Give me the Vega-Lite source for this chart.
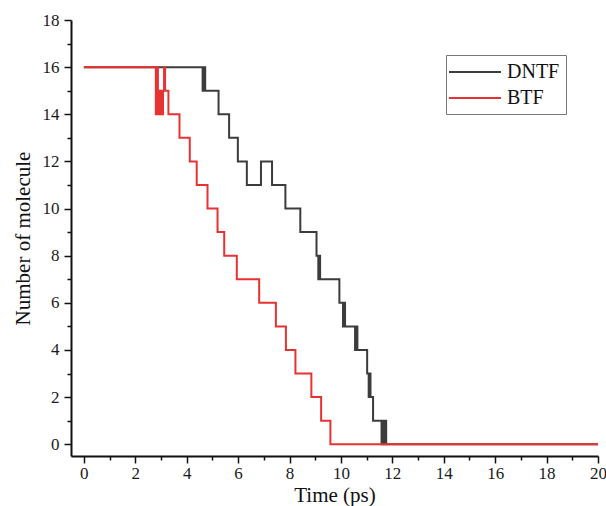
{
  "$schema": "https://vega.github.io/schema/vega-lite/v6.json",
  "width": 527,
  "height": 436,
  "autosize": "none",
  "padding": {"left": 71, "top": 20, "right": 8, "bottom": 50},
  "background": "white",
  "config": {
    "view": {"stroke": null},
    "font": "Times New Roman, Liberation Serif, DejaVu Serif, serif"
  },
  "data": {
    "values": [
      {"t": 0, "n": 16, "series": "DNTF"},
      {"t": 4.62, "n": 15, "series": "DNTF"},
      {"t": 4.68, "n": 16, "series": "DNTF"},
      {"t": 4.72, "n": 15, "series": "DNTF"},
      {"t": 5.24, "n": 14, "series": "DNTF"},
      {"t": 5.65, "n": 13, "series": "DNTF"},
      {"t": 5.99, "n": 12, "series": "DNTF"},
      {"t": 6.34, "n": 11, "series": "DNTF"},
      {"t": 6.89, "n": 12, "series": "DNTF"},
      {"t": 7.32, "n": 11, "series": "DNTF"},
      {"t": 7.84, "n": 10, "series": "DNTF"},
      {"t": 8.42, "n": 9, "series": "DNTF"},
      {"t": 9.05, "n": 8, "series": "DNTF"},
      {"t": 9.12, "n": 7, "series": "DNTF"},
      {"t": 9.15, "n": 8, "series": "DNTF"},
      {"t": 9.19, "n": 7, "series": "DNTF"},
      {"t": 9.94, "n": 6, "series": "DNTF"},
      {"t": 10.08, "n": 5, "series": "DNTF"},
      {"t": 10.12, "n": 6, "series": "DNTF"},
      {"t": 10.16, "n": 5, "series": "DNTF"},
      {"t": 10.55, "n": 4, "series": "DNTF"},
      {"t": 10.6, "n": 5, "series": "DNTF"},
      {"t": 10.64, "n": 4, "series": "DNTF"},
      {"t": 11.02, "n": 3, "series": "DNTF"},
      {"t": 11.08, "n": 2, "series": "DNTF"},
      {"t": 11.11, "n": 3, "series": "DNTF"},
      {"t": 11.15, "n": 2, "series": "DNTF"},
      {"t": 11.25, "n": 1, "series": "DNTF"},
      {"t": 11.58, "n": 0, "series": "DNTF"},
      {"t": 11.62, "n": 1, "series": "DNTF"},
      {"t": 11.66, "n": 0, "series": "DNTF"},
      {"t": 11.7, "n": 1, "series": "DNTF"},
      {"t": 11.76, "n": 0, "series": "DNTF"},
      {"t": 20, "n": 0, "series": "DNTF"},
      {"t": 0, "n": 16, "series": "BTF"},
      {"t": 2.8, "n": 14, "series": "BTF"},
      {"t": 2.86, "n": 16, "series": "BTF"},
      {"t": 2.88, "n": 15, "series": "BTF"},
      {"t": 2.9, "n": 14, "series": "BTF"},
      {"t": 2.93, "n": 15, "series": "BTF"},
      {"t": 2.96, "n": 14, "series": "BTF"},
      {"t": 3.0, "n": 15, "series": "BTF"},
      {"t": 3.04, "n": 14, "series": "BTF"},
      {"t": 3.08, "n": 15, "series": "BTF"},
      {"t": 3.12, "n": 16, "series": "BTF"},
      {"t": 3.16, "n": 15, "series": "BTF"},
      {"t": 3.29, "n": 14, "series": "BTF"},
      {"t": 3.72, "n": 13, "series": "BTF"},
      {"t": 4.12, "n": 12, "series": "BTF"},
      {"t": 4.39, "n": 11, "series": "BTF"},
      {"t": 4.81, "n": 10, "series": "BTF"},
      {"t": 5.2, "n": 9, "series": "BTF"},
      {"t": 5.46, "n": 8, "series": "BTF"},
      {"t": 5.95, "n": 7, "series": "BTF"},
      {"t": 6.82, "n": 6, "series": "BTF"},
      {"t": 7.47, "n": 5, "series": "BTF"},
      {"t": 7.86, "n": 4, "series": "BTF"},
      {"t": 8.23, "n": 3, "series": "BTF"},
      {"t": 8.85, "n": 2, "series": "BTF"},
      {"t": 9.23, "n": 1, "series": "BTF"},
      {"t": 9.59, "n": 0, "series": "BTF"},
      {"t": 20, "n": 0, "series": "BTF"}
    ]
  },
  "encoding": {
    "x": {
      "field": "t", "type": "quantitative",
      "scale": {"domain": [-0.5, 20], "nice": false, "zero": false},
      "axis": {
        "title": "Time (ps)",
        "values": [0,1,2,3,4,5,6,7,8,9,10,11,12,13,14,15,16,17,18,19,20],
        "labelExpr": "datum.value % 2 == 0 ? datum.label : ''",
        "grid": false,
        "domainColor": "#111111",
        "domainWidth": 2,
        "tickColor": "#111111",
        "tickWidth": 1.5,
        "tickSize": {"condition": {"test": "datum.value % 2 == 0", "value": 7}, "value": 4},
        "labelFontSize": 17,
        "labelColor": "#1a1a1a",
        "labelPadding": 2,
        "labelFlush": false,
        "labelOverlap": false,
        "titleFontSize": 21,
        "titleFontWeight": "normal",
        "titleColor": "#111111",
        "titlePadding": 3
      }
    },
    "y": {
      "field": "n", "type": "quantitative",
      "scale": {"domain": [-0.5, 18], "nice": false, "zero": false},
      "axis": {
        "title": "Number of molecule",
        "values": [0,1,2,3,4,5,6,7,8,9,10,11,12,13,14,15,16,17,18],
        "labelExpr": "datum.value % 2 == 0 ? datum.label : ''",
        "grid": false,
        "domainColor": "#111111",
        "domainWidth": 2,
        "tickColor": "#111111",
        "tickWidth": 1.5,
        "tickSize": {"condition": {"test": "datum.value % 2 == 0", "value": 7}, "value": 4},
        "labelFontSize": 17,
        "labelColor": "#1a1a1a",
        "labelPadding": 5,
        "labelFlush": false,
        "labelOverlap": false,
        "titleFontSize": 21,
        "titleFontWeight": "normal",
        "titleColor": "#111111",
        "titlePadding": 9
      }
    },
    "color": {
      "field": "series", "type": "nominal",
      "scale": {"domain": ["DNTF", "BTF"], "range": ["#3c3c3c", "#e83232"]},
      "legend": {
        "title": null,
        "orient": "none",
        "legendX": 375,
        "legendY": 35,
        "symbolType": "M-1.4,0H3.8",
        "symbolSize": 400,
        "symbolStrokeWidth": 2,
        "labelFontSize": 20,
        "labelColor": "#111111",
        "labelOffset": 33,
        "rowPadding": 5,
        "padding": 6,
        "strokeColor": "#777777",
        "fillColor": "white"
      }
    }
  },
  "layer": [
    {
      "transform": [{"filter": "datum.series == 'DNTF'"}],
      "mark": {"type": "line", "interpolate": "step-after", "strokeWidth": 2}
    },
    {
      "transform": [{"filter": "datum.series == 'BTF'"}],
      "mark": {"type": "line", "interpolate": "step-after", "strokeWidth": 2}
    }
  ]
}
